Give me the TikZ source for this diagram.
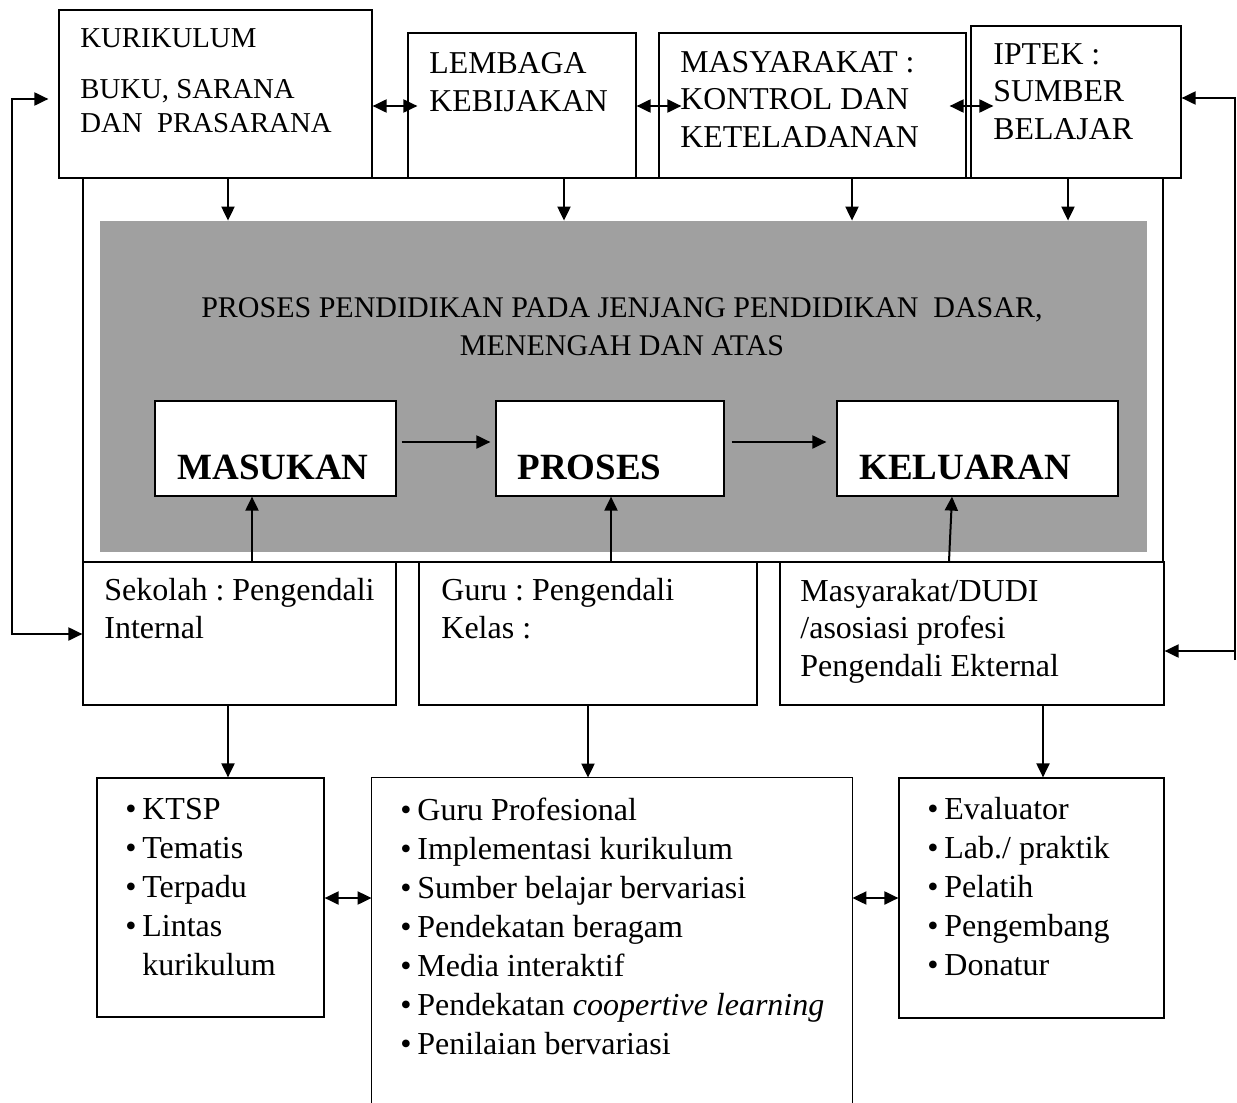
\documentclass[tikz,border=0pt]{standalone}
\usepackage{fontspec}
\setmainfont{Liberation Serif}
\usepackage{xcolor}
\usepackage{tikz}
\usetikzlibrary{fit}
\usetikzlibrary {arrows.meta}

\definecolor{procgray}{HTML}{A0A0A0}
\newcommand{\kurtxt}{\fontsize{14.4}{17}\selectfont}
\newcommand{\toptxt}{\fontsize{15.9}{18.7}\selectfont}
\newcommand{\ttltxt}{\fontsize{15}{19}\selectfont}
\newcommand{\bigtxt}{\fontsize{18.5}{22}\selectfont\bfseries}
\newcommand{\midtxt}{\fontsize{16}{18.6}\selectfont}
\newcommand{\lsttxt}{\fontsize{16}{19.5}\selectfont}
\newcommand{\itm}[1]{\makebox[8.5pt][l]{\textbullet}#1}
\frenchspacing

\begin{document}
\begin{tikzpicture}[x=0.5pt, y=-0.5pt,
  box/.style={draw, line width=0.6pt, inner sep=0pt},
  arr/.style={line width=1pt, -{Triangle[length=7pt,width=6.5pt]}},
  darr/.style={line width=1pt, {Triangle[length=7pt,width=6.5pt]}-{Triangle[length=7pt,width=6.5pt]}},
  txt/.style={anchor=base west, inner sep=0pt, align=left}]
  \useasboundingbox (0,0) rectangle (1237,1103);

  % frame and grey process area
  \node[box, fit={(83,178) (1163,562)}] (frame) {};
  \node[fill=procgray, inner sep=0pt, fit={(100,221) (1147,552)}] (proc) {};

  % top row (text nodes sit on the baseline of their last line)
  \node[box, fit={(59,10) (372,178)}] (kur) {};
  \node[box, fit={(408,33) (636,178)}] (lem) {};
  \node[box, fit={(659,33) (966,178)}] (mas) {};
  \node[box, fit={(971,26) (1181,178)}] (ipt) {};

  \node[txt, font=\kurtxt] (kurt) at (80,132) {KURIKULUM\\[8.5pt]BUKU, SARANA\\DAN\ \ PRASARANA};
  \node[txt, font=\toptxt] (lemt) at (429,111) {LEMBAGA\\KEBIJAKAN};
  \node[txt, font=\toptxt] (mast) at (680,147) {MASYARAKAT :\\KONTROL DAN\\KETELADANAN};
  \node[txt, font=\toptxt] (iptt) at (993,139) {IPTEK :\\SUMBER\\BELAJAR};

  % process
  \node[anchor=base, inner sep=0pt, align=center, font=\ttltxt] (title) at (622,355)
    {PROSES PENDIDIKAN PADA JENJANG PENDIDIKAN\ \ DASAR,\\MENENGAH DAN ATAS};
  \node[box, fill=white, fit={(155,401) (396,496)}] (masuk) {};
  \node[box, fill=white, fit={(496,401) (724,496)}] (pros) {};
  \node[box, fill=white, fit={(837,401) (1118,496)}] (kel) {};
  \node[txt, font=\bigtxt] (masukt) at (177,479) {MASUKAN};
  \node[txt, font=\bigtxt] (prost) at (517,479) {PROSES};
  \node[txt, font=\bigtxt] (kelt) at (859,479) {KELUARAN};

  % controllers
  \node[box, fit={(83,562) (396,705)}] (sek) {};
  \node[box, fit={(419,562) (757,705)}] (guru) {};
  \node[box, fit={(780,562) (1164,705)}] (dudi) {};
  \node[txt, font=\midtxt] (sekt) at (104,638) {Sekolah : Pengendali\\Internal};
  \node[txt, font=\midtxt] (gurut) at (441,638) {Guru : Pengendali\\Kelas :};
  \node[txt, font=\midtxt] (dudit) at (800,676) {Masyarakat/DUDI\\/asosiasi profesi\\Pengendali Ekternal};

  % bottom lists
  \node[box, fit={(97,778) (324,1017)}] (ktsp) {};
  \node[inner sep=0pt, fit={(372,778) (852,1103)}] (gpro) {};
  \draw[line width=0.6pt] (gpro.south west) |- (gpro.north east) -- (gpro.south east);
  \node[box, fit={(899,778) (1164,1018)}] (eval) {};
  \node[txt, font=\lsttxt] (ktspt) at (125,975)
    {\itm{KTSP}\\\itm{Tematis}\\\itm{Terpadu}\\\itm{Lintas}\\\hspace*{8.5pt}kurikulum};
  \node[txt, font=\lsttxt] (gprot) at (400,1054)
    {\itm{Guru Profesional}\\\itm{Implementasi kurikulum}\\\itm{Sumber belajar bervariasi}\\
     \itm{Pendekatan beragam}\\\itm{Media interaktif}\\\itm{Pendekatan \textit{coopertive learning}}\\
     \itm{Penilaian bervariasi}};
  \node[txt, font=\lsttxt] (evalt) at (927,975)
    {\itm{Evaluator}\\\itm{Lab./ praktik}\\\itm{Pelatih}\\\itm{Pengembang}\\\itm{Donatur}};

  % arrows down into the process
  \draw[arr] (kur.south -| 228,0) -- (proc.north -| 228,0);
  \draw[arr] (lem.south -| 564,0) -- (proc.north -| 564,0);
  \draw[arr] (mas.south -| 852,0) -- (proc.north -| 852,0);
  \draw[arr] (ipt.south -| 1068,0) -- (proc.north -| 1068,0);

  % links between top boxes
  \draw[darr, shorten >=-5pt] (kur.east |- 0,106) -- (lem.west |- 0,106);
  \draw[darr, shorten >=-11.5pt] (lem.east |- 0,106) -- (mas.west |- 0,106);
  \draw[darr, shorten <=-8.5pt, shorten >=-11.5pt] (mas.east |- 0,106) -- (ipt.west |- 0,106);

  % flow
  \draw[arr, shorten <=2.5pt, shorten >=2.5pt] (masuk.east |- 0,442) -- (pros.west |- 0,442);
  \draw[arr, shorten <=3.5pt, shorten >=5pt] (pros.east |- 0,442) -- (kel.west |- 0,442);

  % controllers up and down
  \draw[arr] (sek.north -| 252,0) -- (masuk.south -| 252,0);
  \draw[arr] (guru.north -| 611,0) -- (pros.south -| 611,0);
  \draw[arr] (dudi.north -| 949,0) -- (kel.south -| 952,0);
  \draw[arr] (sek.south -| 228,0) -- (ktsp.north -| 228,0);
  \draw[arr] (guru.south -| 588,0) -- (gpro.north -| 588,0);
  \draw[arr] (dudi.south -| 1043,0) -- (eval.north -| 1043,0);
  \draw[darr] (ktsp.east |- 0,898) -- (gpro.west |- 0,898);
  \draw[darr] (gpro.east |- 0,898) -- (eval.west |- 0,898);

  % feedback loops
  \coordinate (lft) at (12,99);
  \coordinate (rgt) at (1235,98);
  \draw[darr, shorten >=5pt] (sek.west |- 0,634) -| (lft) -- (kur.west |- lft);
  \draw[arr] (rgt |- 0,660) -- (rgt) -- (ipt.east |- rgt);
  \draw[arr] (rgt |- 0,651) -- (dudi.east |- 0,651);
\end{tikzpicture}
\end{document}
